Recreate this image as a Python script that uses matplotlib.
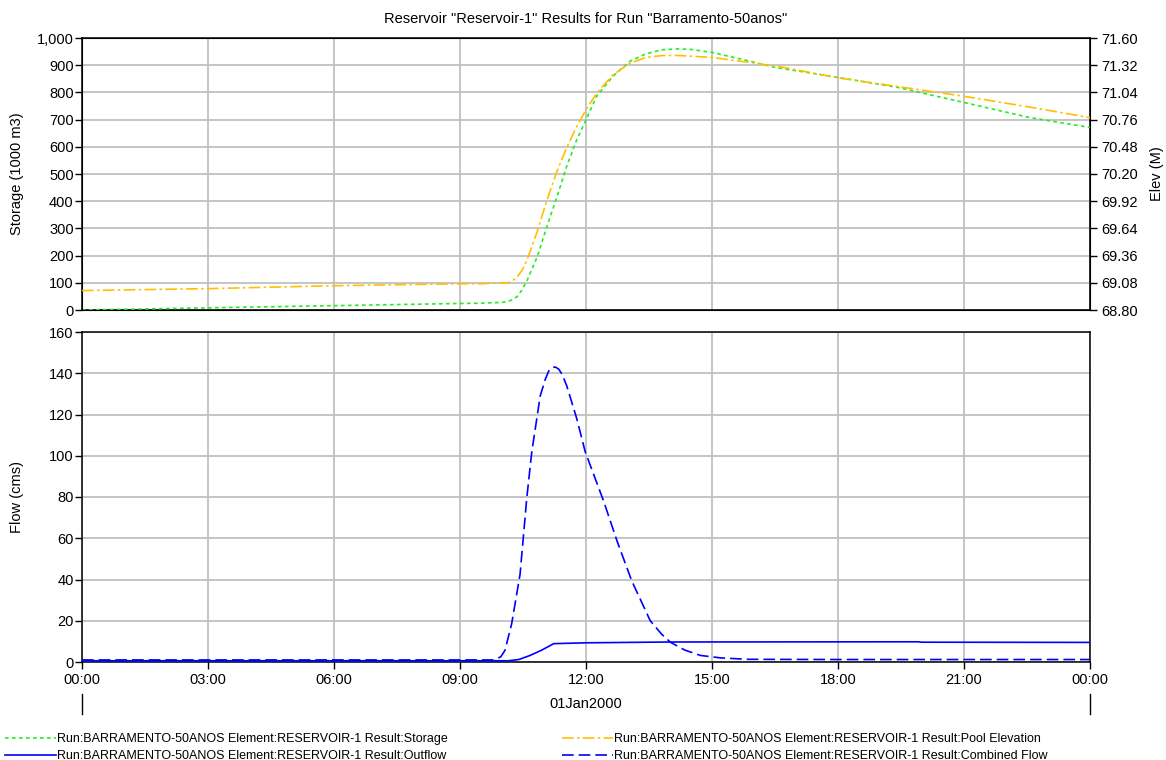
import matplotlib
matplotlib.use("Agg")
import matplotlib.pyplot as plt
from matplotlib.ticker import FuncFormatter

plt.rcParams['font.family'] = ['Liberation Sans', 'DejaVu Sans']

## time axis (hours from 01Jan2000 00:00)
hour_ticks = [0, 3, 6, 9, 12, 15, 18, 21, 24]
hour_labels = ["00:00", "03:00", "06:00", "09:00", "12:00", "15:00", "18:00", "21:00", "00:00"]
day_label = "01Jan2000"

## storage (1000 m3)
storage_hours = [0, 3, 6, 9, 9.5, 10.0, 10.13, 10.25, 10.36, 10.48, 10.6, 10.84, 11.07, 11.31,
                 11.54, 11.78, 12, 12.25, 12.64, 13.04, 13.43, 13.82, 14.2, 14.5, 15, 15.87,
                 16.5, 18, 19.43, 21, 22.55, 24]
storage = [0, 8, 16, 24, 25, 28, 31, 38, 49, 75, 110, 196, 307, 417,
           528, 626, 699, 785, 859, 914, 942, 957, 960, 958, 947, 916,
           892, 855, 818, 763, 708, 671]

## pool elevation (M)
elev_hours = [0, 3, 6, 9, 9.5, 10.0, 10.13, 10.25, 10.36, 10.48, 10.6, 10.84, 11.07, 11.31,
              11.54, 11.78, 12, 12.25, 12.64, 13.04, 13.43, 13.82, 14.2, 15, 15.87, 16.67,
              18, 19.43, 21, 22.55, 24]
elev = [69.00, 69.02, 69.05, 69.07, 69.07, 69.08, 69.08, 69.10, 69.14, 69.21, 69.32, 69.61,
        69.93, 70.23, 70.47, 70.69, 70.86, 71.03, 71.22, 71.34, 71.40, 71.42, 71.42, 71.40,
        71.35, 71.30, 71.19, 71.10, 71.00, 70.89, 70.78]

## combined (inflow) flow (cms)
combined_hours = [0, 9.8, 9.97, 10.07, 10.23, 10.43, 10.59, 10.71, 10.91, 11.03, 11.11, 11.19,
                  11.27, 11.35, 11.43, 11.54, 11.78, 11.98, 12.42, 12.74, 13.09, 13.53, 13.8,
                  14.01, 14.35, 14.72, 15.2, 15.84, 18, 24]
combined = [1.0, 1.0, 2.5, 5.6, 18.5, 42.5, 79.5, 102, 129, 137, 141, 142.8,
            143, 142, 139.5, 134, 118, 102, 78, 58.6, 39.3, 20, 13.5,
            9.6, 5.8, 3.2, 2.0, 1.3, 1.2, 1.2]

## outflow (cms)
outflow_hours = [0, 10.15, 10.4, 10.67, 10.95, 11.23, 12, 14, 19.9, 20, 24]
outflow = [0.6, 0.6, 1.2, 3.2, 5.8, 8.9, 9.3, 9.7, 9.8, 9.6, 9.5]

storage_ticks = list(range(0, 1001, 100))
elev_ticks = [68.80, 69.08, 69.36, 69.64, 69.92, 70.20, 70.48, 70.76, 71.04, 71.32, 71.60]
flow_ticks = list(range(0, 161, 20))

legend_prefix = "Run:BARRAMENTO-50ANOS Element:RESERVOIR-1 Result:"

GRID = '#c0c0c0'
GREEN = '#22ee22'
ORANGE = '#ffc000'
BLUE = '#0000ff'
FS = 10.5

W, H = 1166, 760
fig = plt.figure(figsize=(W / 100, H / 100), dpi=100)
left = 82 / W
width = (1090 - 82) / W
ax1 = fig.add_axes([left, 1 - 310 / H, width, (310 - 38) / H])
ax2 = fig.add_axes([left, 1 - 662 / H, width, (662 - 332) / H])
ax1r = ax1.twinx()

##Top panel
ax1.plot(storage_hours, storage, color=GREEN, lw=1.2, ls=(0, (2.2, 2)), zorder=3)
ax1r.plot(elev_hours, elev, color=ORANGE, lw=1.2, ls=(0, (7, 2, 1.5, 2)), zorder=3)
ax1.set_ylim(0, 1000)
ax1.set_yticks(storage_ticks)
ax1.yaxis.set_major_formatter(FuncFormatter(lambda v, p: "{:,.0f}".format(v)))
ax1r.set_ylim(68.80, 71.60)
ax1r.set_yticks(elev_ticks)
ax1r.yaxis.set_major_formatter(FuncFormatter(lambda v, p: "%.2f" % v))
ax1.set_ylabel("Storage (1000 m3)", fontsize=FS)
ax1r.set_ylabel("Elev (M)", fontsize=FS)
ax1.set_title('Reservoir "Reservoir-1" Results for Run "Barramento-50anos"', fontsize=FS, pad=11)

##Bottom panel
ax2.plot(outflow_hours, outflow, color=BLUE, lw=1.2, zorder=3)
ax2.plot(combined_hours, combined, color=BLUE, lw=1.2, ls=(0, (7, 3)), zorder=3)
ax2.set_ylim(0, 160)
ax2.set_yticks(flow_ticks)
ax2.set_ylabel("Flow (cms)", fontsize=FS)

for ax in (ax1, ax2):
    ax.set_xlim(hour_ticks[0], hour_ticks[-1])
    ax.set_xticks(hour_ticks)
    ax.grid(True, color=GRID, lw=1.3)
    ax.set_axisbelow(True)
    for s in ax.spines.values():
        s.set_linewidth(1.1)
    ax.tick_params(axis='y', direction='out', length=5, width=1, labelsize=FS, pad=1)
    ax.yaxis.set_label_coords(-0.0575, 0.5)
ax1r.tick_params(axis='y', direction='out', length=5, width=1, labelsize=FS, pad=3)
ax1r.yaxis.set_label_coords(1.0595, 0.5)
ax1.tick_params(axis='x', length=0, labelbottom=False)
ax2.set_xticklabels(hour_labels)
ax2.tick_params(axis='x', direction='out', length=5, width=1, labelsize=FS, pad=3)

##day marks and date label under the time axis
trans = ax2.get_xaxis_transform()
for d in (hour_ticks[0], hour_ticks[-1]):
    ax2.plot([d, d], [-0.097, -0.158], color='black', lw=1, transform=trans, clip_on=False)
ax2.text(12, -0.127, day_label, transform=trans, ha='center', va='center', fontsize=FS)

##Legends
h_st, = ax1.plot([], [], color=GREEN, lw=1.2, ls=(0, (2.2, 2)))
h_el, = ax1.plot([], [], color=ORANGE, lw=1.2, ls=(0, (7, 2, 1.5, 2)))
h_out, = ax2.plot([], [], color=BLUE, lw=1.2)
h_cf, = ax2.plot([], [], color=BLUE, lw=1.2, ls=(0, (7, 3)))
lkw = dict(loc='upper left', frameon=False, fontsize=9.0, handlelength=4.1,
           handletextpad=0.05, borderpad=0, labelspacing=0.42, borderaxespad=0)
fig.legend([h_st, h_out], [legend_prefix + "Storage", legend_prefix + "Outflow"],
           bbox_to_anchor=(5 / W, 1 - 733 / H), **lkw)
fig.legend([h_el, h_cf], [legend_prefix + "Pool Elevation", legend_prefix + "Combined Flow"],
           bbox_to_anchor=(562 / W, 1 - 733 / H), **lkw)

fig.savefig("out.png", dpi=100)
